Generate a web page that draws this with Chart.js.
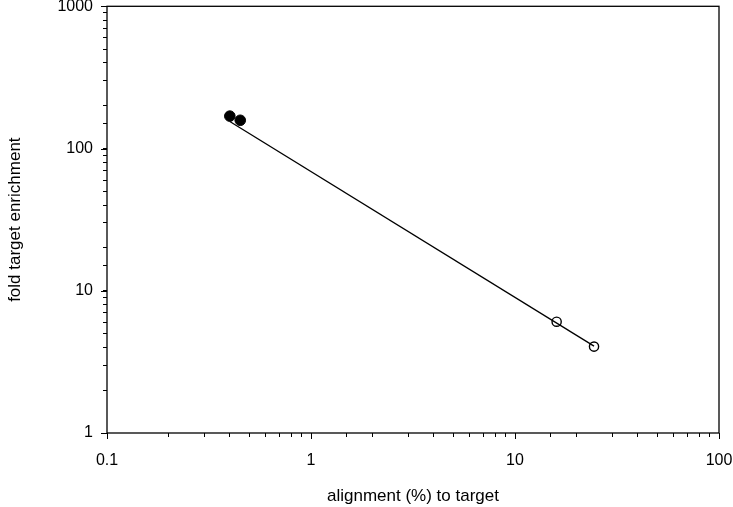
<!DOCTYPE html>
<html>
<head>
<meta charset="utf-8">
<script src="https://cdn.jsdelivr.net/npm/chart.js@4"></script>
<style>
  html, body { margin: 0; padding: 0; background: #fff; }
  #wrap { width: 733px; height: 507px; }
</style>
</head>
<body>
<div id="wrap"><canvas id="c" width="733" height="507"></canvas></div>
<script>
// data
const filledX = [0.40, 0.45];
const filledY = [169, 158];
const openX = [16.0, 24.4];
const openY = [6.06, 4.05];
const fitX = [0.40, 24.4];
const fitY = [155, 4.08];
const xTicks = [0.1, 1, 10, 100];
const yTicks = [1, 10, 100, 1000];

const pts = (xs, ys) => xs.map((x, i) => ({ x: x, y: ys[i] }));
const isMajor = (v, list) => list.some(t => Math.abs(Math.log10(v) - Math.log10(t)) < 1e-6);

// box round the plot, and longer major ticks
const frame = {
    id: 'frame',
    afterDraw(chart) {
        const { ctx, chartArea: a, scales } = chart;
        ctx.save();
        ctx.strokeStyle = '#000';
        ctx.lineWidth = 1.3;
        ctx.strokeRect(a.left, a.top, a.right - a.left, a.bottom - a.top);
        ctx.lineWidth = 1;
        ctx.beginPath();
        xTicks.forEach(v => {
            const px = Math.round(scales.x.getPixelForValue(v)) + 0.5;
            ctx.moveTo(px, a.bottom);
            ctx.lineTo(px, a.bottom + 6);
        });
        yTicks.forEach(v => {
            const py = Math.round(scales.y.getPixelForValue(v)) + 0.5;
            ctx.moveTo(a.left, py);
            ctx.lineTo(a.left - 6, py);
        });
        ctx.stroke();
        ctx.restore();
    }
};

Chart.defaults.font.family = '"Liberation Sans", Arial, sans-serif';
Chart.defaults.color = '#000';

new Chart(document.getElementById('c'), {
    type: 'scatter',
    data: {
        datasets: [
            {
                type: 'line',
                data: pts(fitX, fitY),
                borderColor: '#000',
                borderWidth: 1.3,
                pointRadius: 0,
                fill: false
            },
            {
                data: pts(filledX, filledY),
                backgroundColor: '#000',
                borderColor: '#000',
                pointRadius: 5.3,
                borderWidth: 1
            },
            {
                data: pts(openX, openY),
                backgroundColor: '#fff',
                borderColor: '#000',
                pointRadius: 4.6,
                borderWidth: 1.4
            }
        ]
    },
    options: {
        responsive: false,
        animation: false,
        layout: { padding: { left: 0, top: 5, right: 14, bottom: 0 } },
        plugins: { legend: { display: false }, tooltip: { enabled: false } },
        scales: {
            x: {
                type: 'logarithmic',
                min: 0.1,
                max: 100,
                border: { display: false },
                grid: { drawOnChartArea: false, tickLength: 4, color: '#000', tickWidth: 1 },
                ticks: {
                    autoSkip: false,
                    maxRotation: 0,
                    padding: 14,
                    font: { size: 16 },
                    callback: v => isMajor(v, xTicks) ? String(v) : ''
                },
                title: {
                    display: true,
                    text: 'alignment (%) to target',
                    font: { size: 17 },
                    padding: { top: 12, bottom: 0 }
                },
                afterFit(s) { s.height = 74; s.paddingLeft = 0; s.paddingRight = 0; }
            },
            y: {
                type: 'logarithmic',
                min: 1,
                max: 1000,
                border: { display: false },
                grid: { drawOnChartArea: false, tickLength: 4, color: '#000', tickWidth: 1 },
                ticks: {
                    autoSkip: false,
                    padding: 10,
                    font: { size: 16 },
                    callback: v => isMajor(v, yTicks) ? String(v) : ''
                },
                title: {
                    display: true,
                    text: 'fold target enrichment',
                    font: { size: 17 },
                    padding: { top: 5, bottom: 4 }
                },
                afterFit(s) { s.width = 107; s.paddingTop = 0; s.paddingBottom = 0; }
            }
        }
    },
    plugins: [frame]
});
</script>
</body>
</html>
